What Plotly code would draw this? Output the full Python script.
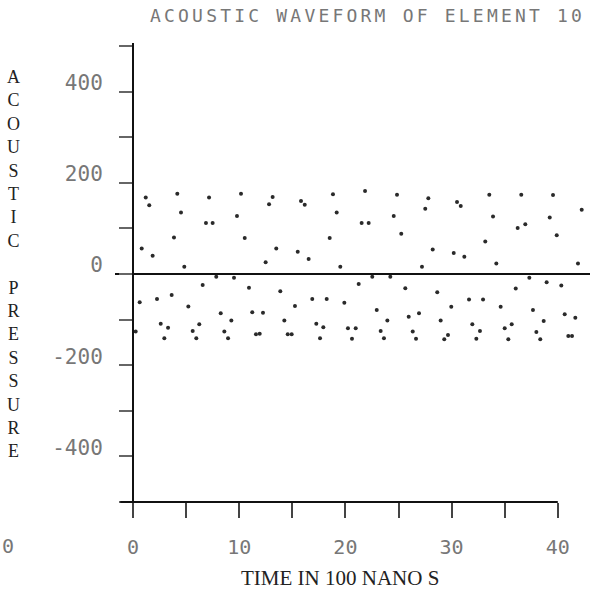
import plotly.graph_objects as go

# ---- data ----
time_100ns = [0.25, 0.63, 0.82, 1.20, 1.53, 1.85, 2.26, 2.61, 2.95, 3.30,
              3.64, 3.86, 4.17, 4.52, 4.83, 5.21, 5.62, 5.96, 6.24, 6.56,
              6.87, 7.16, 7.50, 7.84, 8.26, 8.60, 8.95, 9.26, 9.51, 9.79,
              10.17, 10.52, 10.92, 11.23, 11.58, 11.93, 12.24, 12.49, 12.81, 13.15,
              13.49, 13.87, 14.25, 14.57, 14.94, 15.25, 15.51, 15.82, 16.17, 16.54,
              16.88, 17.26, 17.61, 17.92, 18.24, 18.52, 18.83, 19.18, 19.52, 19.90,
              20.24, 20.62, 20.97, 21.25, 21.53, 21.85, 22.19, 22.53, 22.95, 23.32,
              23.63, 23.95, 24.23, 24.55, 24.86, 25.26, 25.64, 25.96, 26.34, 26.65,
              26.93, 27.21, 27.52, 27.81, 28.22, 28.65, 28.97, 29.31, 29.66, 29.97,
              30.20, 30.51, 30.86, 31.20, 31.64, 31.95, 32.33, 32.67, 32.96, 33.17,
              33.55, 33.90, 34.21, 34.62, 35.00, 35.34, 35.66, 36.04, 36.22, 36.56,
              36.94, 37.32, 37.66, 37.98, 38.35, 38.67, 38.95, 39.24, 39.55, 39.90,
              40.33, 40.65, 40.99, 41.34, 41.65, 41.90, 42.25]

pressure = [-126, -62, 56, 168, 151, 40, -55, -109, -141, -118,
            -46, 80, 176, 135, 16, -71, -125, -141, -110, -24,
            112, 168, 112, -6, -86, -126, -141, -102, -8, 127,
            176, 79, -30, -84, -132, -131, -85, 26, 153, 169,
            56, -38, -102, -132, -132, -70, 49, 160, 152, 33,
            -55, -109, -141, -117, -55, 79, 175, 135, 16, -63,
            -119, -142, -119, -22, 112, 182, 112, -6, -79, -125,
            -141, -102, -6, 127, 174, 88, -31, -94, -126, -142,
            -86, 16, 143, 166, 54, -40, -102, -143, -134, -72,
            46, 158, 149, 38, -56, -110, -142, -125, -56, 71,
            174, 126, 23, -72, -119, -143, -110, -32, 101, 174,
            109, -8, -79, -127, -143, -103, -18, 124, 173, 85,
            -25, -88, -136, -136, -96, 23, 141]

x_tick_vals = [0, 5, 10, 15, 20, 25, 30, 35, 40]
x_tick_text = ["0", "", "10", "", "20", "", "30", "", "40"]
y_tick_vals = [500, 400, 300, 200, 100, 0, -100, -200, -300, -400, -500]
y_tick_text = ["", "400", "", "200", "", "0", "", "-200", "", "-400", ""]

title_text = "ACOUSTIC WAVEFORM OF ELEMENT 10"
y_title = "ACOUSTIC PRESSURE"
x_title = "TIME IN 100 NANO S"

# ---- layout geometry (pixels) ----
W, H = 598, 599
X0, XS = 133.0, 10.62      # px of t=0, px per unit
Y0, YS = 274.0, 0.456      # px of p=0, px per unit
L, R, T, B = 115, 590, 43, 518

x_range = [(L - X0) / XS, (R - X0) / XS]
y_range = [(Y0 - B) / YS, (Y0 - T) / YS]

dot_font = "DejaVu Sans Mono, Liberation Mono, monospace"
serif = "Liberation Serif, DejaVu Serif, serif"

fig = go.Figure()
fig.add_trace(go.Scatter(
    x=time_100ns, y=pressure, mode="markers",
    marker=dict(size=4, color="#2a2a2a"),
    hoverinfo="x+y", showlegend=False, cliponaxis=False,
))

fig.update_layout(
    width=W, height=H,
    margin=dict(l=0, r=0, t=0, b=0),
    paper_bgcolor="white", plot_bgcolor="white",
    xaxis=dict(
        domain=[L / W, R / W], range=x_range,
        anchor="free", position=1 - (Y0 + 500 * YS) / H,
        showline=False, showgrid=False, zeroline=False,
        tickmode="array", tickvals=x_tick_vals, ticktext=x_tick_text,
        ticks="outside", ticklen=15, tickwidth=2, tickcolor="#444",
        tickfont=dict(family=dot_font, size=20, color="#777"),
        ticklabelstandoff=12,
    ),
    yaxis=dict(
        domain=[1 - B / H, 1 - T / H], range=y_range,
        anchor="free", position=X0 / W,
        showline=True, linecolor="#111", linewidth=2,
        showgrid=False,
        zeroline=True, zerolinecolor="#111", zerolinewidth=2,
        tickmode="array", tickvals=y_tick_vals, ticktext=y_tick_text,
        ticks="outside", ticklen=13, tickwidth=2, tickcolor="#666",
        tickfont=dict(family=dot_font, size=21, color="#777"),
        ticklabelstandoff=12, ticklabelshift=-9,
    ),
    shapes=[
        dict(type="line", xref="x", yref="y", x0=-1.2, x1=40, y0=-500, y1=-500,
             line=dict(color="#111", width=2)),
    ],
    annotations=[
        dict(text='<span style="letter-spacing:3.2px">' + title_text + '</span>',
             xref="paper", yref="paper", x=148 / W, y=1 - 15 / H,
             xanchor="left", yanchor="middle", showarrow=False,
             font=dict(family=dot_font, size=18, color="#777")),
        dict(text="<br>".join(list(y_title.split(" ")[0]) + ["\u00a0"] + list(y_title.split(" ")[1])),
             xref="paper", yref="paper", x=13 / W, y=1 - 264 / H,
             xanchor="center", yanchor="middle", showarrow=False, align="center",
             font=dict(family=serif, size=18, color="#222")),
        dict(text=x_title, xref="paper", yref="paper", x=340 / W, y=1 - 578 / H,
             xanchor="center", yanchor="middle", showarrow=False,
             font=dict(family=serif, size=21, color="#222")),
        dict(text="0", xref="paper", yref="paper", x=8 / W, y=1 - 546 / H,
             xanchor="center", yanchor="middle", showarrow=False,
             font=dict(family=dot_font, size=20, color="#777")),
    ],
)

fig.write_html("out.html")
